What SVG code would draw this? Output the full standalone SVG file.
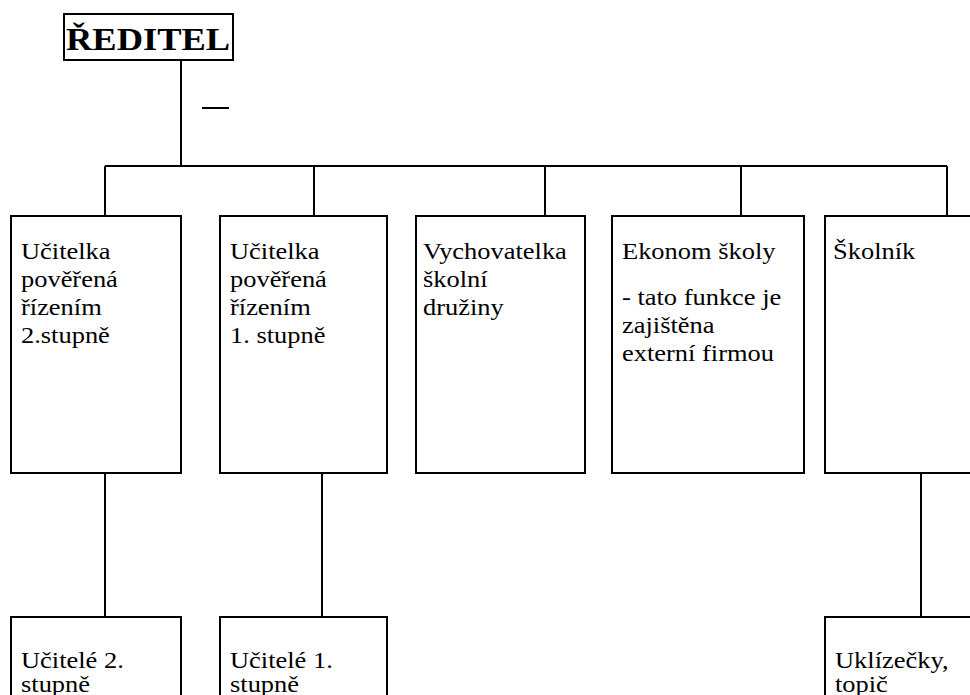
<svg xmlns="http://www.w3.org/2000/svg" width="970" height="695" viewBox="0 0 970 695">
<style>
.box{fill:#fff;stroke:#000;stroke-width:2}
.ln{stroke:#000;stroke-width:2;fill:none}
.t{font-family:"Liberation Serif","Times New Roman",serif;font-size:23px;fill:#000}
.title{font-family:"Liberation Serif","Times New Roman",serif;font-size:32px;font-weight:bold;fill:#000}
</style>
<rect width="970" height="695" fill="#fff"/>
<g id="connectors">
<path class="ln" d="M181,60V166M105,166H947M105,166V216M314,166V216M545,166V216M741,166V216M947,166V216"/>
<path class="ln" d="M202,108H229"/>
<path class="ln" d="M105,473V617M322,473V617M921,473V617"/>
</g>
<g id="reditel">
<rect class="box" x="64" y="14" width="169" height="46"/>
<g transform="translate(66,50) scale(1.14,1)"><text class="title" x="0" y="0">ŘEDITEL</text></g>
</g>
<g id="n1">
<rect class="box" x="11" y="216" width="170" height="257"/>
<g transform="translate(21,259) scale(1.15,1)"><text class="t" x="0" y="0">Učitelka<tspan x="0" dy="28">pověřená</tspan><tspan x="0" dy="28">řízením</tspan><tspan x="0" dy="28">2.stupně</tspan></text></g>
</g>
<g id="n2">
<rect class="box" x="220" y="216" width="167" height="257"/>
<g transform="translate(230,259) scale(1.15,1)"><text class="t" x="0" y="0">Učitelka<tspan x="0" dy="28">pověřená</tspan><tspan x="0" dy="28">řízením</tspan><tspan x="0" dy="28">1. stupně</tspan></text></g>
</g>
<g id="n3">
<rect class="box" x="416" y="216" width="169" height="257"/>
<g transform="translate(423,259) scale(1.15,1)"><text class="t" x="0" y="0">Vychovatelka<tspan x="0" dy="28">školní</tspan><tspan x="0" dy="28">družiny</tspan></text></g>
</g>
<g id="n4">
<rect class="box" x="612" y="216" width="192" height="257"/>
<g transform="translate(622,259) scale(1.15,1)"><text class="t" x="0" y="0">Ekonom školy<tspan x="0" dy="46">- tato funkce je</tspan><tspan x="0" dy="28">zajištěna</tspan><tspan x="0" dy="28">externí firmou</tspan></text></g>
</g>
<g id="n5">
<rect class="box" x="825" y="216" width="160" height="257"/>
<g transform="translate(833,259) scale(1.15,1)"><text class="t" x="0" y="0">Školník</text></g>
</g>
<g id="n6">
<rect class="box" x="11" y="617" width="170" height="100"/>
<g transform="translate(21,668) scale(1.15,1)"><text class="t" x="0" y="0">Učitelé 2.<tspan x="0" dy="24">stupně</tspan></text></g>
</g>
<g id="n7">
<rect class="box" x="220" y="617" width="167" height="100"/>
<g transform="translate(230,668) scale(1.15,1)"><text class="t" x="0" y="0">Učitelé 1.<tspan x="0" dy="24">stupně</tspan></text></g>
</g>
<g id="n8">
<rect class="box" x="825" y="617" width="160" height="100"/>
<g transform="translate(835,668) scale(1.15,1)"><text class="t" x="0" y="0">Uklízečky,<tspan x="0" dy="24">topič</tspan></text></g>
</g>
</svg>
